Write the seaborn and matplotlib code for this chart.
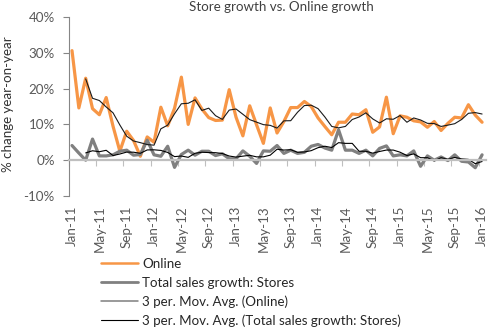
import numpy as np
import pandas as pd
import matplotlib
matplotlib.use("Agg")
import matplotlib.pyplot as plt
import seaborn as sns
from matplotlib.lines import Line2D

# Monthly year-on-year growth, Jan-11 .. Jan-16 (percent)
months = pd.date_range("2011-01-01", "2016-01-01", freq="MS").strftime("%b-%y").tolist()

online = [30.6, 14.6, 22.9, 14.4, 12.7, 17.5, 9.5, 2.5, 8.1, 5.5,
          1.1, 6.5, 5.0, 14.8, 9.6, 14.5, 23.2, 10.0, 17.4, 14.3,
          11.9, 11.1, 11.2, 19.7, 12.0, 6.8, 15.2, 9.9, 4.7, 14.6,
          7.6, 10.8, 14.7, 14.7, 16.4, 15.0, 11.8, 9.4, 7.1, 10.6,
          10.6, 12.9, 12.7, 14.1, 7.8, 9.3, 17.6, 7.4, 12.4, 12.0,
          11.0, 10.7, 9.2, 10.8, 8.3, 10.3, 12.0, 11.8, 15.5, 12.6,
          10.6]

stores = [4.1, 2.0, 0.0, 5.9, 1.2, 1.2, 1.5, 2.5, 2.8, 1.4,
          1.6, 5.6, 1.5, 1.1, 3.9, -2.0, 1.6, 2.8, 1.4, 2.5,
          2.5, 1.3, 1.8, 0.4, 0.4, 2.6, 1.1, -0.9, 2.6, 2.5,
          4.1, 1.9, 2.8, 1.9, 2.2, 3.9, 4.4, 3.4, 2.8, 8.5,
          2.8, 2.8, 1.9, 2.8, 1.2, 3.3, 4.0, 1.2, 1.5, 1.2,
          2.6, -1.7, 1.2, 0.0, 0.9, -0.1, 1.5, -0.3, -0.5, -2.1,
          1.5]

y_ticks = [-10, 0, 10, 20, 30, 40]
y_tick_labels = ["-10%", "0%", "10%", "20%", "30%", "40%"]

legend_labels = ["Online", "Total sales growth: Stores",
                 "3 per. Mov. Avg. (Online)",
                 "3 per. Mov. Avg. (Total sales growth: Stores)"]

df = pd.DataFrame({"idx": np.arange(len(months)), "month": months,
                   "online": online, "stores": stores})
df["online_ma"] = df["online"].rolling(3).mean()
df["stores_ma"] = df["stores"].rolling(3).mean()

sns.set_theme(style="white")
plt.rcParams["font.family"] = ["Lato", "DejaVu Sans"]

ORANGE = "#F79646"
GRAY = "#808080"
TXT = "#595959"
FS = 9.6

fig = plt.figure(figsize=(4.88, 3.29), dpi=100)
ax = fig.add_axes([68.6 / 488, 1 - 196 / 329, (485.5 - 68.6) / 488, (196 - 17) / 329])

sns.lineplot(data=df, x="idx", y="online", ax=ax, color=ORANGE, lw=2.3)
sns.lineplot(data=df, x="idx", y="stores", ax=ax, color=GRAY, lw=2.3)
sns.lineplot(data=df.dropna(), x="idx", y="online_ma", ax=ax, color="#1a1a1a", lw=0.8)
sns.lineplot(data=df.dropna(), x="idx", y="stores_ma", ax=ax, color="#000000", lw=0.8)

ax.set_xlim(-0.5, len(months) - 0.5)
ax.set_ylim(-10, 40)
ax.set_xlabel("")
ax.set_ylabel("")

# value axis on the left
ax.set_yticks(y_ticks)
ax.set_yticklabels(y_tick_labels, fontsize=FS, color=TXT)
ax.tick_params(axis="y", left=True, direction="out", length=4, width=0.8,
               color="#868686", pad=6)
for s in ["top", "right"]:
    ax.spines[s].set_visible(False)
ax.spines["left"].set_color("#868686")
ax.spines["left"].set_linewidth(0.8)

# category axis crosses at zero, tick marks between every fourth month
ax.spines["bottom"].set_position(("data", 0))
ax.spines["bottom"].set_color("#BFBFBF")
ax.spines["bottom"].set_linewidth(1.6)
ax.set_xticks(np.arange(-0.5, len(months), 4))
ax.set_xticklabels([])
ax.tick_params(axis="x", bottom=True, direction="out", length=4, width=0.8,
               color="#BFBFBF")

# month labels sit below the plot area
sec = ax.secondary_xaxis(0)
sec.set_xticks(df["idx"][::4].tolist())
sec.set_xticklabels(df["month"][::4].tolist(), rotation=90, fontsize=FS, color=TXT)
sec.tick_params(axis="x", length=0, pad=7)
sec.spines["bottom"].set_visible(False)

fig.text(281 / 488, 1 - 7 / 329, "Store growth vs. Online growth",
         ha="center", va="center", fontsize=FS, color="#404040")
fig.text(8 / 488, 1 - 104 / 329, "% change year-on-year", rotation=90,
         ha="center", va="center", fontsize=FS, color="#333333")

handles = [Line2D([], [], color=ORANGE, lw=1.8),
           Line2D([], [], color=GRAY, lw=2.0),
           Line2D([], [], color="#7f7f7f", lw=1.1),
           Line2D([], [], color="#000000", lw=0.8)]
fig.legend(handles, legend_labels, loc="upper left",
           bbox_to_anchor=(100.7 / 488, 1 - 258 / 329), frameon=False,
           fontsize=FS, handlelength=2.8, handletextpad=0.3,
           labelspacing=0.5, borderpad=0, borderaxespad=0, labelcolor="#262626")

fig.savefig("out.png", dpi=100)
